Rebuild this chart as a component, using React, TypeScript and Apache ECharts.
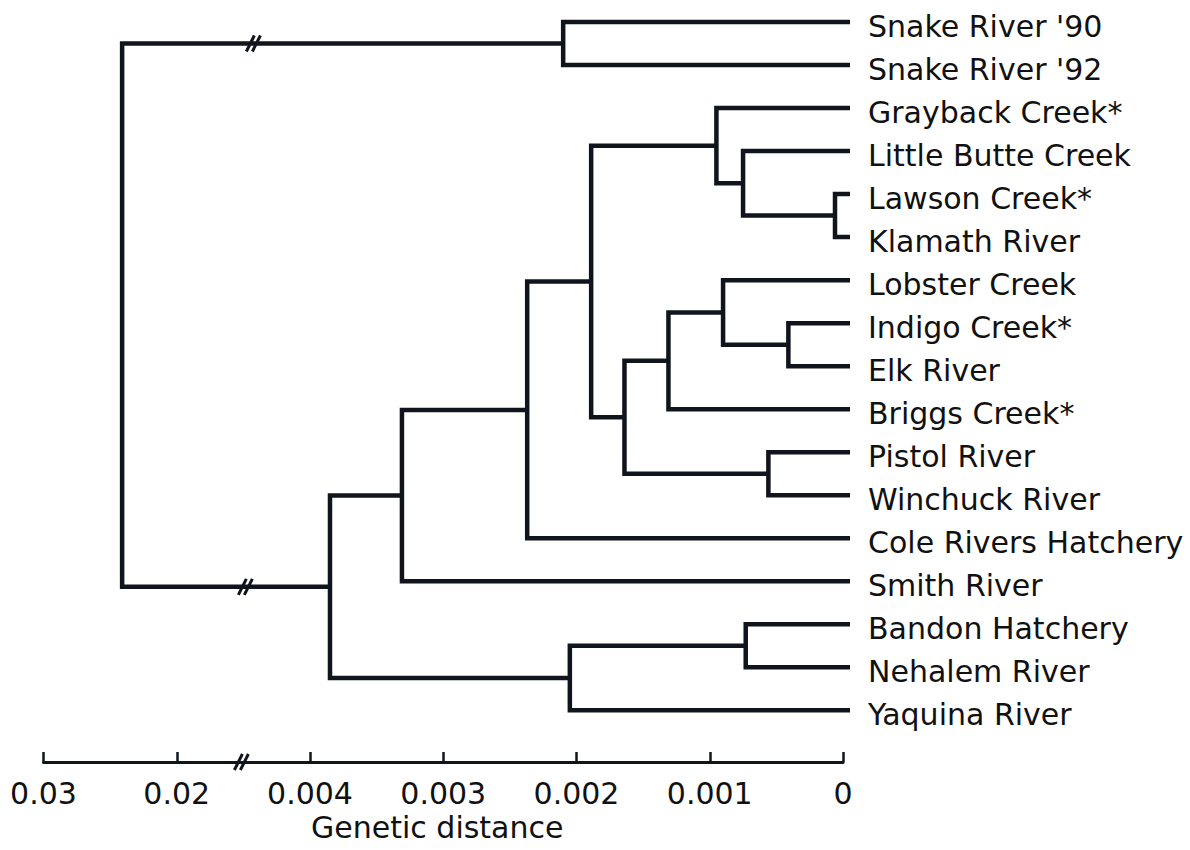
import React, { useEffect, useRef } from "react";
import * as echarts from "echarts";

// Leaves, top to bottom
const leaves: string[] = [
  "Snake River '90",
  "Snake River '92",
  "Grayback Creek*",
  "Little Butte Creek",
  "Lawson Creek*",
  "Klamath River",
  "Lobster Creek",
  "Indigo Creek*",
  "Elk River",
  "Briggs Creek*",
  "Pistol River",
  "Winchuck River",
  "Cole Rivers Hatchery",
  "Smith River",
  "Bandon Hatchery",
  "Nehalem River",
  "Yaquina River",
];

// [cluster id, child A, child B, genetic distance of the join]
const clusters: [string, string, string, number][] = [
  ["A", "Lawson Creek*", "Klamath River", 0.00006],
  ["B", "Little Butte Creek", "A", 0.00075],
  ["C", "Grayback Creek*", "B", 0.00095],
  ["D", "Indigo Creek*", "Elk River", 0.00041],
  ["E", "Lobster Creek", "D", 0.0009],
  ["F", "E", "Briggs Creek*", 0.00131],
  ["G", "Pistol River", "Winchuck River", 0.00056],
  ["H", "F", "G", 0.00164],
  ["I", "C", "H", 0.00189],
  ["J", "I", "Cole Rivers Hatchery", 0.00237],
  ["K", "J", "Smith River", 0.00331],
  ["L", "Bandon Hatchery", "Nehalem River", 0.00073],
  ["M", "L", "Yaquina River", 0.00205],
  ["N", "K", "M", 0.00385],
  ["O", "Snake River '90", "Snake River '92", 0.0021],
  ["Root", "O", "N", 0.0241],
];

// Tick labels of the broken distance axis (axis units 0..0.006)
const tickLabels: string[] = ["0", "0.001", "0.002", "0.003", "0.004", "0.02", "0.03"];

const BREAK_AT = 0.0045; // distances above this are compressed (0.02 -> 0.005)
const BREAK_MARK_U = 0.00447;

function toAxis(d: number): number {
  return d <= BREAK_AT ? d : 0.005 + (d - 0.02) * 0.1;
}

const INK = "#10141c";
const FONT = "DejaVu Sans";

export default function App() {
  const ref = useRef<HTMLDivElement>(null);

  useEffect(() => {
    if (!ref.current) return;
    const chart = echarts.init(ref.current, undefined, { renderer: "svg" });

    const info: Record<string, { y: number; h: number; leaf: boolean }> = {};
    leaves.forEach((n, i) => (info[n] = { y: i, h: 0, leaf: true }));
    clusters.forEach(([id, a, b, h]) => {
      info[id] = { y: (info[a].y + info[b].y) / 2, h, leaf: false };
    });

    const clusterData = clusters.map(([id, a, b, h]) => [
      toAxis(h),
      info[a].y,
      info[b].y,
      toAxis(info[a].h),
      toAxis(info[b].h),
      info[a].leaf ? 1 : 0,
      info[b].leaf ? 1 : 0,
      id === "Root" ? 1 : 0,
    ]);

    const breakMark = (cx: number, cy: number) =>
      [-3, 3].map((dx) => ({
        type: "line",
        shape: { x1: cx + dx - 4, y1: cy + 8, x2: cx + dx + 4, y2: cy - 8 },
        style: { stroke: INK, lineWidth: 3 },
      }));

    const Y_MAX = 17.2;

    chart.setOption({
      animation: false,
      backgroundColor: "#ffffff",
      grid: { left: 43.5, right: 347, top: 0.5, bottom: 88, containLabel: false },
      xAxis: {
        type: "value",
        position: "bottom",
        inverse: true,
        min: 0,
        max: 0.006,
        interval: 0.001,
        name: "Genetic distance",
        nameLocation: "middle",
        nameGap: 47,
        nameTextStyle: { fontFamily: FONT, fontSize: 30, color: "#111", padding: [0, 12, 0, 0] },
        axisLine: { show: true, onZero: false, lineStyle: { color: INK, width: 3 } },
        axisTick: { show: true, inside: true, length: 10, lineStyle: { color: INK, width: 2.5 } },
        splitLine: { show: false },
        axisLabel: {
          fontFamily: FONT,
          fontSize: 30,
          color: "#111",
          margin: 16,
          showMinLabel: true,
          showMaxLabel: true,
          formatter: (v: number) => tickLabels[Math.round(v / 0.001)] ?? "",
        },
      },
      yAxis: { type: "value", inverse: true, min: -0.5, max: Y_MAX, show: false },
      series: [
        {
          type: "custom",
          clip: false,
          silent: true,
          data: clusterData,
          renderItem: (params: any, api: any) => {
            const xh = api.coord([api.value(0), 0])[0];
            const yA = api.coord([0, api.value(1)])[1];
            const yB = api.coord([0, api.value(2)])[1];
            const tipA = api.coord([api.value(3), 0])[0] + (api.value(5) ? 7 : 0);
            const tipB = api.coord([api.value(4), 0])[0] + (api.value(6) ? 7 : 0);
            const children: any[] = [
              {
                type: "polyline",
                shape: { points: [[tipA, yA], [xh, yA], [xh, yB], [tipB, yB]] },
                style: { stroke: INK, lineWidth: 4.5, fill: null, lineJoin: "miter", lineCap: "butt" },
              },
            ];
            if (api.value(7)) {
              const bx = api.coord([BREAK_MARK_U, 0])[0];
              children.push(...breakMark(bx + 6, yA), ...breakMark(bx - 2, yB));
            }
            return { type: "group", children };
          },
        },
        {
          type: "custom",
          clip: false,
          silent: true,
          data: leaves.map((_, i) => [0, i]),
          renderItem: (params: any, api: any) => {
            const p = api.coord([0, api.value(1)]);
            return {
              type: "text",
              x: p[0] + 25,
              y: p[1] + 4,
              style: {
                text: leaves[params.dataIndex],
                fontFamily: FONT,
                fontSize: 30,
                fill: "#111",
                align: "left",
                verticalAlign: "middle",
              },
            };
          },
        },
        {
          type: "custom",
          clip: false,
          silent: true,
          data: [[BREAK_MARK_U, Y_MAX]],
          renderItem: (params: any, api: any) => {
            const p = api.coord([api.value(0), api.value(1)]);
            return { type: "group", children: breakMark(p[0] - 6, p[1]) };
          },
        },
      ],
    });

    return () => chart.dispose();
  }, []);

  return (
    <div
      ref={ref}
      style={{ position: "fixed", left: 0, top: 0, width: 1190, height: 850, background: "#fff" }}
    />
  );
}
